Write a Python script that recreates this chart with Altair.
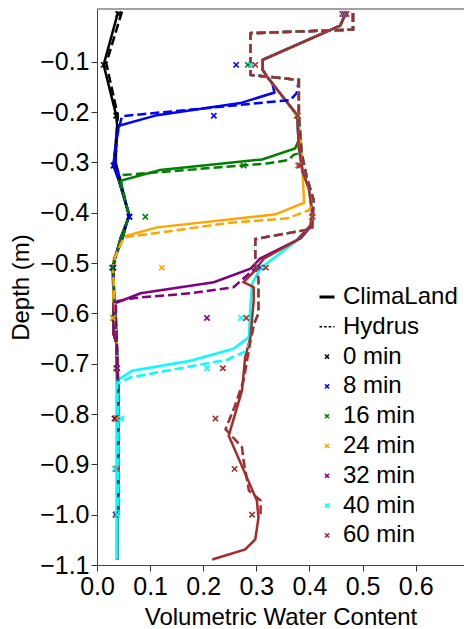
import altair as alt
import pandas as pd

FONT = "Liberation Sans"
TIMES = ["0 min", "8 min", "16 min", "24 min", "32 min", "40 min", "60 min"]
COLORS = ["black", "blue", "green", "orange", "purple", "cyan", "brown"]

X_MAX = 0.691
Y_MIN, Y_MAX = -1.1, 0.005
X_TICKS = [0.0, 0.1, 0.2, 0.3, 0.4, 0.5, 0.6]
Y_TICKS = [-1.1, -1.0, -0.9, -0.8, -0.7, -0.6, -0.5, -0.4, -0.3, -0.2, -0.1]

# ---------------- ClimaLand (solid) profiles ----------------
cl_0_depth = [0.0, -0.106, -0.206, -0.227, -0.276, -0.306, -0.335, -0.406, -0.449, -0.49, -0.51, -0.575, -0.64, -0.66, -0.73, -1.089]
cl_0_vwc = [0.040, 0.0125, 0.036, 0.038, 0.034, 0.031, 0.041, 0.061, 0.045, 0.034, 0.030, 0.031, 0.031, 0.037, 0.038, 0.038]

cl_8_depth = [-0.002, -0.028, -0.096, -0.116, -0.129, -0.142, -0.161, -0.182, -0.206, -0.227, -0.276, -0.306, -0.335, -0.406, -0.449, -0.49, -0.51, -0.575, -0.64, -0.66, -0.73, -1.089]
cl_8_vwc = [0.469, 0.458, 0.312, 0.312, 0.320, 0.330, 0.334, 0.270, 0.113, 0.041, 0.034, 0.031, 0.041, 0.061, 0.045, 0.034, 0.030, 0.031, 0.031, 0.037, 0.038, 0.038]

cl_16_depth = [-0.002, -0.028, -0.096, -0.116, -0.129, -0.206, -0.255, -0.272, -0.294, -0.315, -0.337, -0.406, -0.449, -0.49, -0.51, -0.575, -0.64, -0.66, -0.73, -1.089]
cl_16_vwc = [0.469, 0.458, 0.312, 0.312, 0.320, 0.377, 0.380, 0.373, 0.311, 0.119, 0.042, 0.061, 0.045, 0.034, 0.030, 0.031, 0.031, 0.037, 0.038, 0.038]

cl_24_depth = [-0.002, -0.028, -0.096, -0.116, -0.129, -0.206, -0.26, -0.38, -0.403, -0.429, -0.447, -0.494, -0.51, -0.575, -0.64, -0.66, -0.73, -1.089]
cl_24_vwc = [0.469, 0.458, 0.312, 0.312, 0.320, 0.377, 0.384, 0.390, 0.336, 0.113, 0.050, 0.031, 0.030, 0.031, 0.031, 0.037, 0.038, 0.038]

cl_32_depth = [-0.002, -0.028, -0.096, -0.116, -0.129, -0.206, -0.27, -0.318, -0.352, -0.398, -0.425, -0.451, -0.491, -0.511, -0.538, -0.56, -0.581, -0.64, -0.66, -0.73, -1.089]
cl_32_vwc = [0.469, 0.458, 0.312, 0.312, 0.320, 0.377, 0.380, 0.387, 0.399, 0.405, 0.405, 0.383, 0.307, 0.289, 0.220, 0.082, 0.031, 0.031, 0.037, 0.038, 0.038]

cl_40_depth = [-0.002, -0.028, -0.096, -0.116, -0.129, -0.206, -0.27, -0.318, -0.352, -0.398, -0.425, -0.455, -0.511, -0.541, -0.581, -0.647, -0.67, -0.694, -0.714, -0.733, -1.089]
cl_40_vwc = [0.469, 0.458, 0.312, 0.312, 0.320, 0.377, 0.380, 0.387, 0.399, 0.405, 0.402, 0.376, 0.307, 0.292, 0.289, 0.286, 0.257, 0.176, 0.066, 0.038, 0.038]

cl_60_depth = [-0.002, -0.028, -0.096, -0.116, -0.129, -0.206, -0.27, -0.318, -0.352, -0.398, -0.425, -0.455, -0.491, -0.514, -0.538, -0.548, -0.574, -0.647, -0.687, -0.753, -0.843, -0.972, -1.006, -1.049, -1.069, -1.089]
cl_60_vwc = [0.469, 0.458, 0.312, 0.312, 0.320, 0.377, 0.380, 0.387, 0.399, 0.405, 0.402, 0.376, 0.314, 0.298, 0.276, 0.295, 0.295, 0.289, 0.279, 0.273, 0.248, 0.301, 0.304, 0.298, 0.279, 0.217]

# ---------------- Hydrus (dashed) profiles ----------------
hy_0_depth = [0.0, -0.103, -0.206, -0.25, -0.30, -0.34, -0.405, -0.454, -0.488, -0.508, -0.574, -0.65, -0.75, -1.0]
hy_0_vwc = [0.047, 0.0175, 0.039, 0.037, 0.035, 0.045, 0.060, 0.047, 0.034, 0.030, 0.033, 0.037, 0.040, 0.040]

hy_8_depth = [-0.003, -0.036, -0.043, -0.126, -0.136, -0.162, -0.176, -0.208, -0.25, -0.30, -0.34, -0.405, -0.454, -0.488, -0.508, -0.574, -0.65, -0.75, -1.0]
hy_8_vwc = [0.482, 0.482, 0.289, 0.289, 0.380, 0.376, 0.364, 0.047, 0.037, 0.035, 0.045, 0.060, 0.047, 0.034, 0.030, 0.033, 0.037, 0.040, 0.040]

hy_16_depth = [-0.003, -0.036, -0.043, -0.126, -0.136, -0.206, -0.28, -0.285, -0.295, -0.302, -0.325, -0.34, -0.405, -0.454, -0.488, -0.508, -0.574, -0.65, -0.75, -1.0]
hy_16_vwc = [0.482, 0.482, 0.289, 0.289, 0.380, 0.380, 0.385, 0.370, 0.361, 0.320, 0.050, 0.045, 0.060, 0.047, 0.034, 0.030, 0.033, 0.037, 0.040, 0.040]

hy_24_depth = [-0.003, -0.036, -0.043, -0.126, -0.136, -0.206, -0.28, -0.33, -0.375, -0.395, -0.411, -0.42, -0.449, -0.488, -0.508, -0.574, -0.65, -0.75, -1.0]
hy_24_vwc = [0.482, 0.482, 0.289, 0.289, 0.380, 0.380, 0.385, 0.395, 0.408, 0.399, 0.358, 0.250, 0.050, 0.034, 0.030, 0.033, 0.037, 0.040, 0.040]

hy_32_depth = [-0.003, -0.036, -0.043, -0.126, -0.136, -0.206, -0.28, -0.33, -0.375, -0.432, -0.452, -0.51, -0.548, -0.56, -0.569, -0.576, -0.65, -0.75, -1.0]
hy_32_vwc = [0.482, 0.482, 0.289, 0.289, 0.380, 0.380, 0.385, 0.395, 0.408, 0.405, 0.298, 0.298, 0.257, 0.176, 0.075, 0.035, 0.037, 0.040, 0.040]

hy_40_depth = [-0.003, -0.036, -0.043, -0.126, -0.136, -0.206, -0.28, -0.33, -0.375, -0.432, -0.452, -0.51, -0.53, -0.60, -0.62, -0.654, -0.674, -0.692, -0.727, -0.74, -0.8, -1.0]
hy_40_vwc = [0.482, 0.482, 0.289, 0.289, 0.380, 0.380, 0.385, 0.395, 0.408, 0.405, 0.298, 0.298, 0.304, 0.304, 0.296, 0.289, 0.282, 0.245, 0.063, 0.038, 0.040, 0.040]

hy_60_depth = [-0.003, -0.036, -0.043, -0.126, -0.136, -0.206, -0.28, -0.33, -0.375, -0.432, -0.452, -0.51, -0.53, -0.60, -0.62, -0.654, -0.733, -0.783, -0.83, -0.866, -0.893, -0.952, -0.972, -0.999]
hy_60_vwc = [0.482, 0.482, 0.289, 0.289, 0.380, 0.380, 0.385, 0.395, 0.408, 0.405, 0.298, 0.298, 0.304, 0.304, 0.296, 0.289, 0.276, 0.260, 0.242, 0.273, 0.276, 0.286, 0.308, 0.308]

# ---------------- Observations ----------------
obs_depth = [-0.005, -0.106, -0.207, -0.306, -0.408, -0.509, -0.609, -0.709, -0.809, -0.909, -1.0]
obs_0 = [0.040, 0.0125, 0.036, 0.032, 0.061, 0.031, 0.031, 0.037, 0.037, 0.037, 0.037]
obs_8 = [0.462, 0.262, 0.220, 0.031, 0.061, 0.030, 0.031, 0.037, 0.036, 0.036, 0.036]
obs_16 = [0.464, 0.284, 0.376, 0.276, 0.091, 0.028, 0.031, 0.036, 0.036, 0.036, 0.036]
obs_24 = [0.464, 0.290, 0.376, 0.378, 0.404, 0.122, 0.030, 0.037, 0.037, 0.037, 0.037]
obs_32 = [0.466, 0.290, 0.377, 0.380, 0.405, 0.307, 0.207, 0.038, 0.033, 0.035, 0.035]
obs_40 = [0.469, 0.290, 0.377, 0.381, 0.405, 0.312, 0.271, 0.207, 0.046, 0.034, 0.038]
obs_60 = [0.470, 0.298, 0.378, 0.382, 0.406, 0.318, 0.281, 0.237, 0.223, 0.259, 0.292]

CL = [(cl_0_depth, cl_0_vwc), (cl_8_depth, cl_8_vwc), (cl_16_depth, cl_16_vwc), (cl_24_depth, cl_24_vwc),
      (cl_32_depth, cl_32_vwc), (cl_40_depth, cl_40_vwc), (cl_60_depth, cl_60_vwc)]
HY = [(hy_0_depth, hy_0_vwc), (hy_8_depth, hy_8_vwc), (hy_16_depth, hy_16_vwc), (hy_24_depth, hy_24_vwc),
      (hy_32_depth, hy_32_vwc), (hy_40_depth, hy_40_vwc), (hy_60_depth, hy_60_vwc)]
OBS = [obs_0, obs_8, obs_16, obs_24, obs_32, obs_40, obs_60]

# ---------------- Legend entries ----------------
LEG_LABELS = ["ClimaLand", "Hydrus"] + TIMES
LEG_COLORS = ["black", "black"] + COLORS
X_PATH = "M-1,-1L1,1M-1,1L1,-1"
X_SMALL = "M-0.27,-0.27L0.27,0.27M-0.27,0.27L0.27,-0.27"
LINE_THICK = "M-1,-0.1L1,-0.1M-1,0.1L1,0.1"
LINE_THIN = "M-1,0L1,0"
LEG_SHAPES = [LINE_THICK, LINE_THIN] + [X_SMALL] * 7
LEG_DASH = [[1, 0], [2.6, 2.0]] + [[1, 0]] * 7

x_axis = alt.Axis(values=X_TICKS, format=".1f", title="Volumetric Water Content", grid=False,
                  labelFont=FONT, labelFontSize=25, labelColor="black", labelBaseline="alphabetic",
                  labelPadding=23, labelFlush=False, labelOverlap=False,
                  tickSize=6, tickColor="#333", domainColor="#444",
                  titleFont=FONT, titleFontSize=24, titleFontWeight="normal", titleColor="black",
                  titleBaseline="alphabetic", titleY=59.5)
y_axis = alt.Axis(values=Y_TICKS, format=".1f", title="Depth (m)", grid=False,
                  labelFont=FONT, labelFontSize=25, labelColor="black", labelPadding=2,
                  labelFlush=False, labelOverlap=False,
                  tickSize=6, tickColor="#333", domainColor="#444",
                  titleFont=FONT, titleFontSize=24, titleFontWeight="normal", titleColor="black",
                  titleX=-76, titleY=278, titleBaseline="middle", titleAngle=270)

def xenc():
    return alt.X("vwc:Q", scale=alt.Scale(domain=[0, X_MAX], nice=False, zero=False), axis=x_axis)

def yenc():
    return alt.Y("depth:Q", scale=alt.Scale(domain=[Y_MIN, Y_MAX], nice=False, zero=False), axis=y_axis)

layers = []
for (d, v), c in zip(CL, COLORS):
    df = pd.DataFrame({"depth": d, "vwc": v, "i": range(len(d))})
    layers.append(alt.Chart(df).mark_line(color=c, strokeWidth=2.5, clip=True)
                  .encode(x=xenc(), y=yenc(), order="i:Q"))
for (d, v), c in zip(HY, COLORS):
    df = pd.DataFrame({"depth": d, "vwc": v, "i": range(len(d))})
    layers.append(alt.Chart(df).mark_line(color=c, strokeWidth=2.5, strokeDash=[9, 4], clip=True)
                  .encode(x=xenc(), y=yenc(), order="i:Q"))
for vals, c in zip(OBS, COLORS):
    df = pd.DataFrame({"depth": obs_depth, "vwc": vals})
    layers.append(alt.Chart(df).mark_point(shape=X_PATH, filled=False, size=28, strokeWidth=1.6,
                                          opacity=1, color=c, clip=True)
                  .encode(x=xenc(), y=yenc()))

# top spine
layers.append(alt.Chart(pd.DataFrame({"a": [0]})).mark_rule(color="#444", strokeWidth=1)
              .encode(x=alt.datum(0.0), x2=alt.datum(X_MAX), y=alt.datum(Y_MAX)))

# legend layer (no visible marks; legend from explicit scale domains)
leg_df = pd.DataFrame({"label": LEG_LABELS})
legend = alt.Legend(title=None, orient="none", legendX=218, legendY=276, padding=0,
                    labelFont=FONT, labelFontSize=24, labelColor="black", labelOffset=4,
                    symbolSize=225, symbolStrokeWidth=1.5, rowPadding=5.8, symbolOpacity=1)
layers.append(alt.Chart(leg_df).transform_filter("false").mark_point(filled=False, opacity=1)
              .encode(color=alt.Color("label:N", scale=alt.Scale(domain=LEG_LABELS, range=LEG_COLORS), legend=legend),
                      shape=alt.Shape("label:N", scale=alt.Scale(domain=LEG_LABELS, range=LEG_SHAPES), legend=legend),
                      strokeDash=alt.StrokeDash("label:N", scale=alt.Scale(domain=LEG_LABELS, range=LEG_DASH), legend=legend)))

chart = alt.layer(*layers).properties(
    width=367, height=556,
    autosize=alt.AutoSizeParams(type="none"),
    padding={"left": 97, "top": 9, "right": 0, "bottom": 64},
).configure_view(stroke=None)

chart.save("out.html", embed_options={"renderer": "svg", "actions": False})
